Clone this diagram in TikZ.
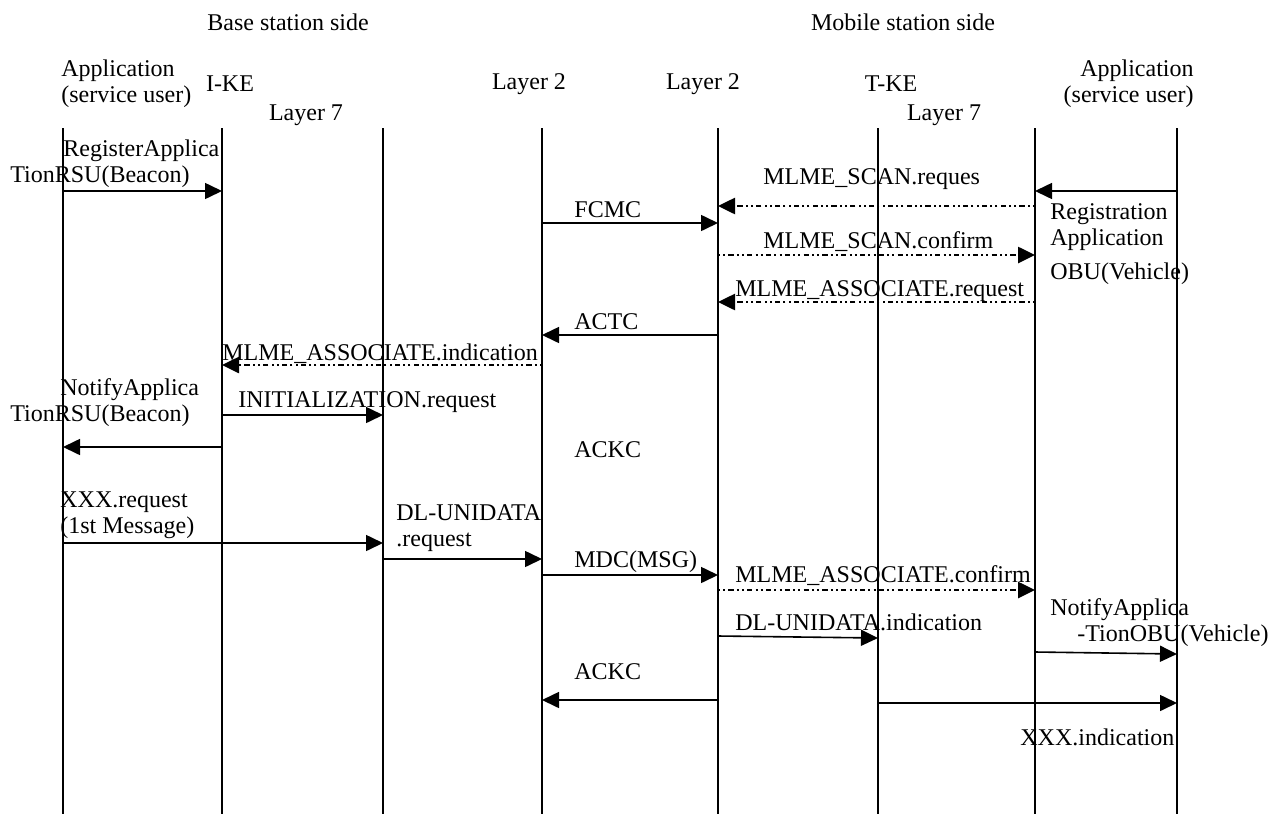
\documentclass[tikz,border=0pt]{standalone}
\usepackage{fontspec}
\setmainfont{Liberation Serif}
\usetikzlibrary{arrows.meta}

\begin{document}
\begin{tikzpicture}[
    x=0.5pt, y=-0.5pt,
    font=\fontsize{12}{13}\selectfont,
    lbl/.style={anchor=west, inner sep=0pt, text height=8.5pt, text depth=2.5pt},
    multi/.style={anchor=north west, inner sep=0pt, align=left},
    life/.style={line width=0.8pt},
    msg/.style={line width=0.8pt, -{Triangle[length=8.5pt,width=8pt]}},
    prim/.style={msg, line width=1.3pt,
                 dash pattern=on 1pt off 1.6pt on 1pt off 1.6pt on 2.6pt off 1.6pt}]
  \useasboundingbox (0,0) rectangle (1285,814);
  % lifelines
  \foreach \name/\xx in {appB/63, ike/222, lsevB/383, ltwoB/542,
                         ltwoM/718, tke/878, lsevM/1035, appM/1177} {
    \coordinate (\name) at (\xx,128);
    \draw[life] (\name) -- (\xx,814);
  }
  % headings
  \node (base) at (288,22) {Base station side};
  \node (mob) at (903,22) {Mobile station side};
  \node[multi] (userB) at (61,59) {Application\\(service user)};
  \node[multi, align=right, anchor=north east] (userM) at (1194,59) {Application\\(service user)};
  \node (ikeT) at (230,84) {I-KE};
  \node (ltwoBT) at (529,84) {Layer 2};
  \node (ltwoMT) at (703,84) {Layer 2};
  \node (tkeT) at (891,84) {T-KE};
  \node (lsevBT) at (306,115) {Layer 7};
  \node (lsevMT) at (944,115) {Layer 7};

  % base station side messages
  \draw[msg] (appB |- 0,191) -- (ike |- 0,191);
  \node[multi] (reg) at (10,139) {\hspace{26.5pt}RegisterApplica\\TionRSU(Beacon)};
  \draw[msg] (ltwoB |- 0,223) -- (ltwoM |- 0,223);
  \node[lbl] (fcmc) at (574,211) {FCMC};
  \draw[msg] (ltwoM |- 0,335) -- (ltwoB |- 0,335);
  \node[lbl] (actc) at (574,323) {ACTC};
  \draw[prim] (ltwoB |- 0,365) -- (ike |- 0,365);
  \node[lbl] (assind) at (222,354) {MLME\_ASSOCIATE.indication};
  \draw[msg] (ike |- 0,415) -- (lsevB |- 0,415);
  \node[lbl] (init) at (238,401) {INITIALIZATION.request};
  \draw[msg] (ike |- 0,447) -- (appB |- 0,447);
  \node[multi] (notB) at (10,378) {\hspace{25pt}NotifyApplica\\TionRSU(Beacon)};
  \node[lbl] (ackcA) at (574,451) {ACKC};
  \draw[msg] (appB |- 0,543) -- (lsevB |- 0,543);
  \node[multi] (xreq) at (60,491) {XXX.request\\(1st Message)};
  \draw[msg] (lsevB |- 0,559) -- (ltwoB |- 0,559);
  \node[multi] (dlreq) at (396,504) {DL-UNIDATA\\.request};
  \draw[msg] (ltwoB |- 0,575) -- (ltwoM |- 0,575);
  \node[lbl] (mdc) at (574,561) {MDC(MSG)};
  \draw[msg] (ltwoM |- 0,700) -- (ltwoB |- 0,700);
  \node[lbl] (ackcB) at (574,673) {ACKC};

  % mobile station side messages
  \draw[msg] (appM |- 0,191) -- (lsevM |- 0,191);
  \node[multi] (regM) at (1050,203) {Registration\\Application\\[4pt]OBU(Vehicle)};
  \draw[prim] (lsevM |- 0,206) -- (ltwoM |- 0,206);
  \node[lbl] (scanreq) at (763,178) {MLME\_SCAN.reques};
  \draw[prim] (ltwoM |- 0,255) -- (lsevM |- 0,255);
  \node[lbl] (scancnf) at (763,242) {MLME\_SCAN.confirm};
  \draw[prim] (lsevM |- 0,302) -- (ltwoM |- 0,302);
  \node[lbl] (assreq) at (735,290) {MLME\_ASSOCIATE.request};
  \draw[prim] (ltwoM |- 0,590) -- (lsevM |- 0,590);
  \node[lbl] (asscnf) at (735,576) {MLME\_ASSOCIATE.confirm};
  \draw[msg] (ltwoM |- 0,636) -- (tke |- 0,638);
  \node[lbl] (dlind) at (735,624) {DL-UNIDATA.indication};
  \draw[msg] (lsevM |- 0,652) -- (appM |- 0,654);
  \node[multi] (notM) at (1050,598) {NotifyApplica\\\hspace{13.5pt}-TionOBU(Vehicle)};
  \draw[msg] (tke |- 0,703) -- (appM |- 0,703);
  \node[lbl] (xind) at (1020,739) {XXX.indication};
\end{tikzpicture}
\end{document}
